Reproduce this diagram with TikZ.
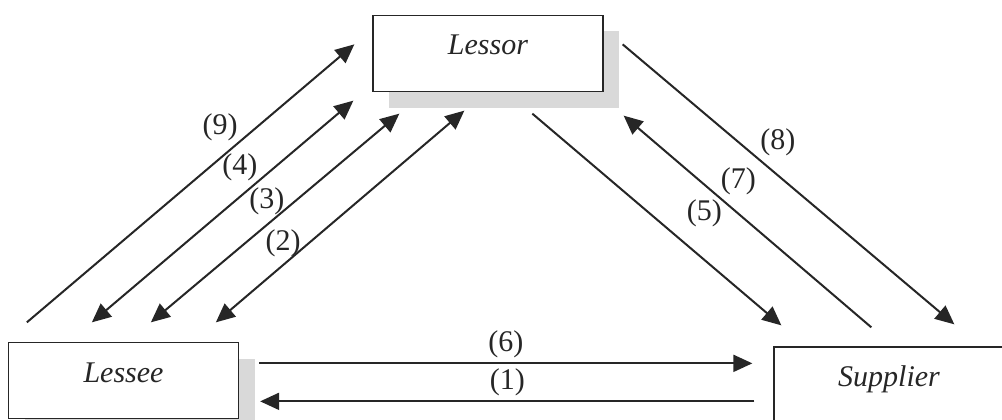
\documentclass[tikz,border=0pt]{standalone}
\usepackage{fontspec}
\setmainfont{Liberation Serif}
\usetikzlibrary{arrows.meta,calc,shadows}

\begin{document}
\begin{tikzpicture}[
    x=1pt, y=-1pt,
    party/.style={draw=black!85, fill=white, line width=1.3pt, minimum width=230pt, minimum height=76pt, inner sep=0pt, text height=20pt, text depth=17pt, text=black!85, font=\fontsize{30}{36}\selectfont\itshape},
    shadowed/.style={drop shadow={shadow xshift=16pt, shadow yshift=-16pt, fill=black!15, opacity=1}},
    flow/.style={-{Triangle[length=19pt,width=17pt]}, line width=2pt, draw=black!85},
    biflow/.style={{Triangle[length=19pt,width=17pt]}-{Triangle[length=19pt,width=17pt]}, line width=2pt, draw=black!85},
    num/.style={inner sep=0pt, text=black!85, font=\fontsize{30}{36}\selectfont}
]
\useasboundingbox (0,0) rectangle (1002,420);
\clip (0,0) rectangle (1002,420);

% ===== PARTIES =====
\node[party, shadowed] (lessor) at (488,53.5) {Lessor};
\node[party, shadowed] (lessee) at (123.5,380.5) {Lessee};
\node[party, shadowed] (supplier) at (889,385) {Supplier};

% ===== LESSEE -- LESSOR =====
\draw[flow] ($(lessee.north west)+(19,-19.5)$) -- node[num, pos=0.70, xshift=-36pt] (n9) {(9)} ($(lessor.north west)+(-18,29.5)$);
\draw[biflow] ($(lessee.north west)+(84,-19.5)$) -- node[num, pos=0.70, xshift=-35pt] (n4) {(4)} ($(lessor.south west)+(-19,8.5)$);
\draw[biflow] ($(lessee.north west)+(143,-19.5)$) -- node[num, pos=0.58, xshift=-28pt] (n3) {(3)} ($(lessor.south west)+(27,21.5)$);
\draw[biflow] ($(lessee.north west)+(208,-19.5)$) -- node[num, pos=0.375, xshift=-26pt] (n2) {(2)} ($(lessor.south west)+(92,18.5)$);

% ===== LESSOR -- SUPPLIER =====
\draw[flow] ($(lessor.south west)+(160,21.5)$) -- node[num, pos=0.47, xshift=55pt] (n5) {(5)} ($(supplier.north west)+(8,-21)$);
\draw[flow] ($(supplier.north west)+(98,-19)$) -- node[num, pos=0.69, xshift=38pt] (n7) {(7)} ($(lessor.south east)+(20,23.5)$);
\draw[flow] ($(lessor.north east)+(19,29.5)$) -- node[num, pos=0.35, xshift=39pt] (n8) {(8)} ($(supplier.north west)+(181,-22)$);

% ===== LESSEE -- SUPPLIER =====
\draw[flow] ($(lessee.north east)+(20,21.5)$) -- node[num, pos=0.5, yshift=19pt] (n6) {(6)} ($(supplier.north west)+(-21,17)$);
\draw[flow] ($(supplier.north west)+(-19,55)$) -- node[num, pos=0.5, yshift=19pt] (n1) {(1)} ($(lessee.north east)+(21,59.5)$);

\end{tikzpicture}
\end{document}
